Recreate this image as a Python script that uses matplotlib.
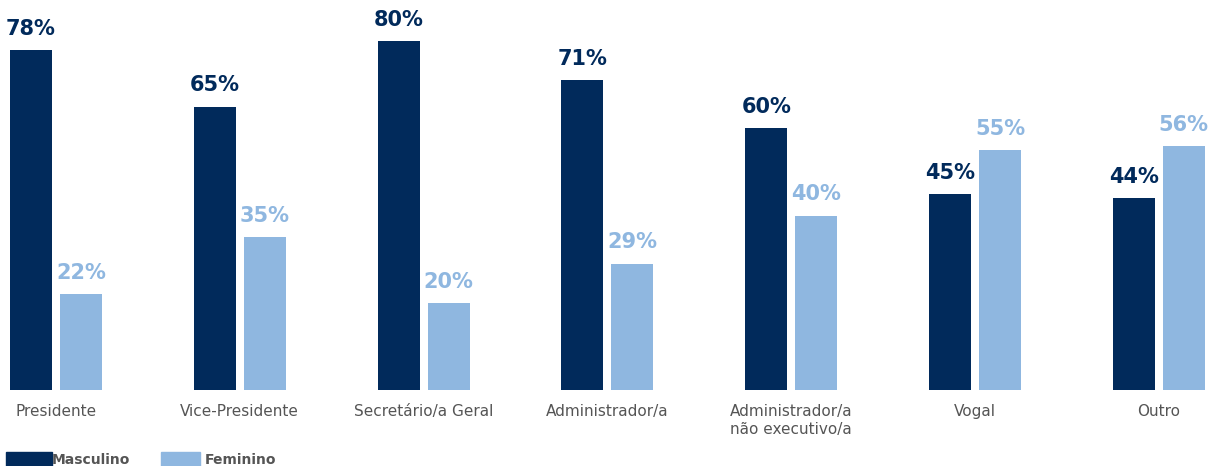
import matplotlib
matplotlib.use("Agg")
import matplotlib.pyplot as plt
from matplotlib.patches import Rectangle
import numpy as np

categories = ["Presidente", "Vice-Presidente", "Secretário/a Geral", "Administrador/a",
              "Administrador/a\nnão executivo/a", "Vogal", "Outro"]
masculino = [78, 65, 80, 71, 60, 45, 44]
feminino = [22, 35, 20, 29, 40, 55, 56]

NAVY = "#012a5b"
LIGHT = "#8fb7e0"
GRAY = "#555555"

W, H = 1212, 466
fig = plt.figure(figsize=(W / 100, H / 100), dpi=100)
base_px = 390
ax = fig.add_axes([0, (H - base_px) / H, 1, base_px / H])

step = 183.8
x = np.arange(len(categories))
bw = 42 / step
off = 25 / step
ax.bar(x - off, masculino, width=bw, color=NAVY)
ax.bar(x + off, feminino, width=bw, color=LIGHT)

ax.set_xlim(-56 / step, (W - 56) / step)
ax.set_ylim(0, base_px / 4.36)
ax.axis("off")

for xi, m, f in zip(x, masculino, feminino):
    ax.annotate(f"{m}%", (xi - off, m), xytext=(0, 8), textcoords="offset points",
                ha="center", va="bottom", fontsize=15, fontweight="bold", color=NAVY,
                family="DejaVu Sans")
    ax.annotate(f"{f}%", (xi + off, f), xytext=(0, 8), textcoords="offset points",
                ha="center", va="bottom", fontsize=15, fontweight="bold", color=LIGHT,
                family="DejaVu Sans")
    ax.annotate(categories[int(xi)], (xi, 0), xytext=(0, -10), textcoords="offset points",
                ha="center", va="top", fontsize=11, color=GRAY, family="DejaVu Sans",
                linespacing=1.3, annotation_clip=False)

# legend
def legend_item(x0, w, color, label, tx):
    fig.add_artist(Rectangle((x0 / W, 0), w / W, 14 / H, transform=fig.transFigure,
                             color=color, clip_on=False))
    fig.text(tx / W, 6 / H, label, ha="left", va="center", fontsize=10,
             fontweight="bold", color=GRAY, family="DejaVu Sans")

legend_item(6, 46, NAVY, "Masculino", 52)
legend_item(161, 39, LIGHT, "Feminino", 205)

fig.savefig("out.png", dpi=100)
